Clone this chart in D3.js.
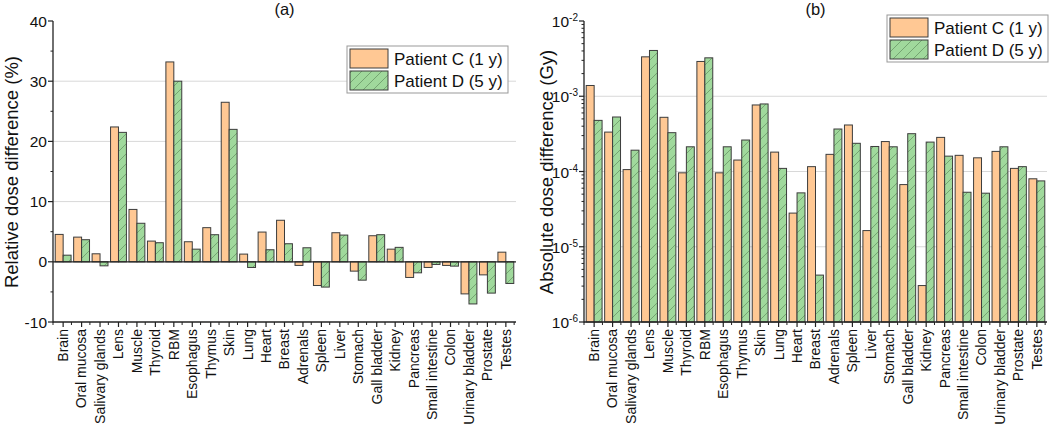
<!DOCTYPE html>
<html>
<head>
<meta charset="utf-8">
<script src="https://cdn.jsdelivr.net/npm/d3@7"></script>
<style>
    body { margin: 0; background: #fff; }
    svg { display: block; font-family: "Liberation Sans", Arial, sans-serif; }
</style>
</head>
<body>
<svg id="chart" width="1050" height="432"></svg>
<script>
// organs, in plotting order
let organs = ["Brain", "Oral mucosa", "Salivary glands", "Lens", "Muscle", "Thyroid", "RBM",
    "Esophagus", "Thymus", "Skin", "Lung", "Heart", "Breast", "Adrenals", "Spleen", "Liver",
    "Stomach", "Gall bladder", "Kidney", "Pancreas", "Small intestine", "Colon",
    "Urinary bladder", "Prostate", "Testes"];

// (a) relative dose difference (%)
let relC = [4.55, 4.1, 1.33, 22.4, 8.7, 3.44, 33.2, 3.33, 5.67, 26.5, 1.28, 4.94, 6.9,
    -0.6, -3.94, 4.83, -1.55, 4.33, 2.1, -2.6, -0.94, -0.6, -5.33, -2.17, 1.6];
let relD = [1.1, 3.67, -0.67, 21.5, 6.4, 3.17, 30.0, 2.1, 4.5, 22.0, -0.94, 2.0, 3.0,
    2.33, -4.2, 4.44, -3.05, 4.5, 2.4, -1.83, -0.44, -0.72, -7.0, -5.2, -3.6];

// (b) absolute dose difference (Gy)
let absC = [1.39e-3, 3.34e-4, 1.06e-4, 3.34e-3, 5.25e-4, 9.6e-5, 2.9e-3, 9.6e-5, 1.42e-4,
    7.66e-4, 1.81e-4, 2.8e-5, 1.16e-4, 1.69e-4, 4.15e-4, 1.64e-5, 2.5e-4, 6.7e-5, 3.05e-6,
    2.84e-4, 1.64e-4, 1.52e-4, 1.85e-4, 1.1e-4, 8.0e-5];
let absD = [4.78e-4, 5.3e-4, 1.92e-4, 4.06e-3, 3.28e-4, 2.13e-4, 3.24e-3, 2.13e-4, 2.62e-4,
    7.9e-4, 1.1e-4, 5.2e-5, 4.2e-6, 3.67e-4, 2.37e-4, 2.15e-4, 2.13e-4, 3.18e-4, 2.46e-4,
    1.6e-4, 5.3e-5, 5.15e-5, 2.13e-4, 1.16e-4, 7.5e-5];

let seriesNames = ["Patient C (1 y)", "Patient D (5 y)"];
let relTicks = [-10, 0, 10, 20, 30, 40];
let absTicks = [-6, -5, -4, -3, -2];   // exponents

let colorC = "#ffc894", colorD = "#a0d99c", edge = "#3c3c3c", grid = "#d8d8d8";
let plotTop = 21, plotBottom = 322;

const svg = d3.select("#chart");

// hatch for patient D
let pat = svg.append("defs").append("pattern")
    .attr("id", "hatch")
    .attr("patternUnits", "userSpaceOnUse")
    .attr("width", 10).attr("height", 10);
pat.append("rect").attr("width", 10).attr("height", 10).attr("fill", colorD);
pat.append("path").attr("d", "M-2,2 L2,-2 M0,10 L10,0 M8,12 L12,8")
    .attr("stroke", "#6a9867").attr("stroke-width", 0.8);

function fillFor(s) { return s === 0 ? colorC : "url(#hatch)"; }

function panel(opt) {
    let g = svg.append("g");
    let x = d3.scaleBand().domain(organs).range([opt.x0, opt.x1]).paddingInner(0.14).paddingOuter(0.12);
    let xs = d3.scaleBand().domain([0, 1]).range([0, x.bandwidth()]);
    let y = opt.y;

    // gridlines
    g.append("g").selectAll("line").data(opt.grid).join("line")
        .attr("x1", opt.x0).attr("x2", opt.x1)
        .attr("y1", d => y(d)).attr("y2", d => y(d))
        .attr("stroke", grid).attr("stroke-width", 1);

    // bars
    let base = opt.base;
    [opt.c, opt.d].forEach((vals, s) => {
        g.append("g").selectAll("rect").data(vals).join("rect")
            .attr("x", (d, i) => x(organs[i]) + xs(s))
            .attr("width", xs.bandwidth())
            .attr("y", d => Math.min(y(d), y(base)))
            .attr("height", d => Math.abs(y(d) - y(base)))
            .attr("fill", fillFor(s))
            .attr("stroke", edge).attr("stroke-width", 1);
    });

    if (opt.zeroLine) {
        g.append("line").attr("x1", opt.x0).attr("x2", opt.x1)
            .attr("y1", y(0)).attr("y2", y(0))
            .attr("stroke", "#222").attr("stroke-width", 1.2);
    }

    // y axis
    let ya = g.append("g").attr("stroke", "#222");
    ya.append("line").attr("x1", opt.x0).attr("x2", opt.x0).attr("y1", plotTop).attr("y2", plotBottom + 0.5)
        .attr("stroke-width", 1.3);
    ya.selectAll(".minor").data(opt.minor).join("line")
        .attr("x1", opt.x0 - 2.5).attr("x2", opt.x0)
        .attr("y1", d => y(d)).attr("y2", d => y(d));
    ya.selectAll(".major").data(opt.major).join("line")
        .attr("x1", opt.x0 - 5).attr("x2", opt.x0)
        .attr("y1", d => y(d)).attr("y2", d => y(d)).attr("stroke-width", 1.2);
    opt.tickLabels(g, y);

    // x axis at bottom
    let xa = g.append("g").attr("stroke", "#222");
    xa.append("line").attr("x1", opt.x0).attr("x2", opt.x1).attr("y1", plotBottom).attr("y2", plotBottom)
        .attr("stroke-width", 1.3);
    xa.selectAll(".c").data(organs).join("line")
        .attr("x1", d => x(d) + x.bandwidth() / 2).attr("x2", d => x(d) + x.bandwidth() / 2)
        .attr("y1", plotBottom).attr("y2", plotBottom + 5).attr("stroke-width", 1.2);
    xa.selectAll(".b").data(d3.range(organs.length + 1)).join("line")
        .attr("x1", i => opt.x0 + i * x.step()).attr("x2", i => opt.x0 + i * x.step())
        .attr("y1", plotBottom).attr("y2", plotBottom + 3);

    g.append("g").selectAll("text").data(organs).join("text")
        .attr("transform", d => "translate(" + (x(d) + x.bandwidth() / 2) + "," + (plotBottom + 7) + ") rotate(-90)")
        .attr("dy", "0.35em")
        .attr("text-anchor", "end")
        .attr("font-size", 14)
        .attr("fill", "#111")
        .text(d => d);

    // axis title
    g.append("text")
        .attr("transform", "translate(" + opt.labelX + "," + 172 + ") rotate(-90)")
        .attr("text-anchor", "middle")
        .attr("font-size", 18.5)
        .attr("fill", "#111")
        .text(opt.label);

    // panel letter
    g.append("text").attr("x", (opt.x0 + opt.x1) / 2).attr("y", 15)
        .attr("text-anchor", "middle").attr("font-size", 16.5).attr("fill", "#111")
        .text(opt.title);

    // legend
    let lg = g.append("g").attr("transform", "translate(" + opt.legend[0] + "," + opt.legend[1] + ")");
    lg.append("rect").attr("width", 161).attr("height", 47)
        .attr("fill", "#fff").attr("stroke", "#999").attr("stroke-width", 1);
    seriesNames.forEach((n, s) => {
        lg.append("rect").attr("x", 3).attr("y", 3 + s * 22).attr("width", 38).attr("height", 19)
            .attr("fill", fillFor(s)).attr("stroke", edge).attr("stroke-width", 1);
        lg.append("text").attr("x", 47).attr("y", 19 + s * 22)
            .attr("font-size", 17).attr("fill", "#111").text(n);
    });
}

// (a)
let yA = d3.scaleLinear().domain([-10, 40]).range([plotBottom, plotTop]);
panel({
    x0: 53, x1: 516, y: yA, base: 0, c: relC, d: relD, zeroLine: true,
    grid: [10, 20, 30],
    major: relTicks, minor: d3.range(-5, 40, 10),
    tickLabels: function (g, y) {
        g.append("g").selectAll("text").data(relTicks).join("text")
            .attr("x", 47).attr("y", d => y(d)).attr("dy", "0.36em")
            .attr("text-anchor", "end").attr("font-size", 15.5).attr("fill", "#111")
            .text(d => d);
    },
    label: "Relative dose difference (%)", labelX: 18,
    title: "(a)", legend: [347, 46]
});

// (b)
let yB = d3.scaleLog().domain([1e-6, 1e-2]).range([plotBottom, plotTop]);
let minorB = [];
absTicks.slice(0, -1).forEach(e => { for (let k = 2; k < 10; k++) minorB.push(k * Math.pow(10, e)); });
panel({
    x0: 584, x1: 1047, y: yB, base: 1e-6, c: absC, d: absD, zeroLine: false,
    grid: [1e-5, 1e-4, 1e-3],
    major: absTicks.map(e => Math.pow(10, e)), minor: minorB,
    tickLabels: function (g, y) {
        let t = g.append("g").selectAll("text").data(absTicks).join("text")
            .attr("x", 578).attr("y", e => y(Math.pow(10, e))).attr("dy", "0.4em")
            .attr("text-anchor", "end").attr("font-size", 15.5).attr("fill", "#111");
        t.append("tspan").text("10");
        t.append("tspan").attr("dy", "-0.6em").attr("font-size", 10).text(e => e);
    },
    label: "Absolute dose difference (Gy)", labelX: 553,
    title: "(b)", legend: [887, 15]
});
</script>
</body>
</html>
